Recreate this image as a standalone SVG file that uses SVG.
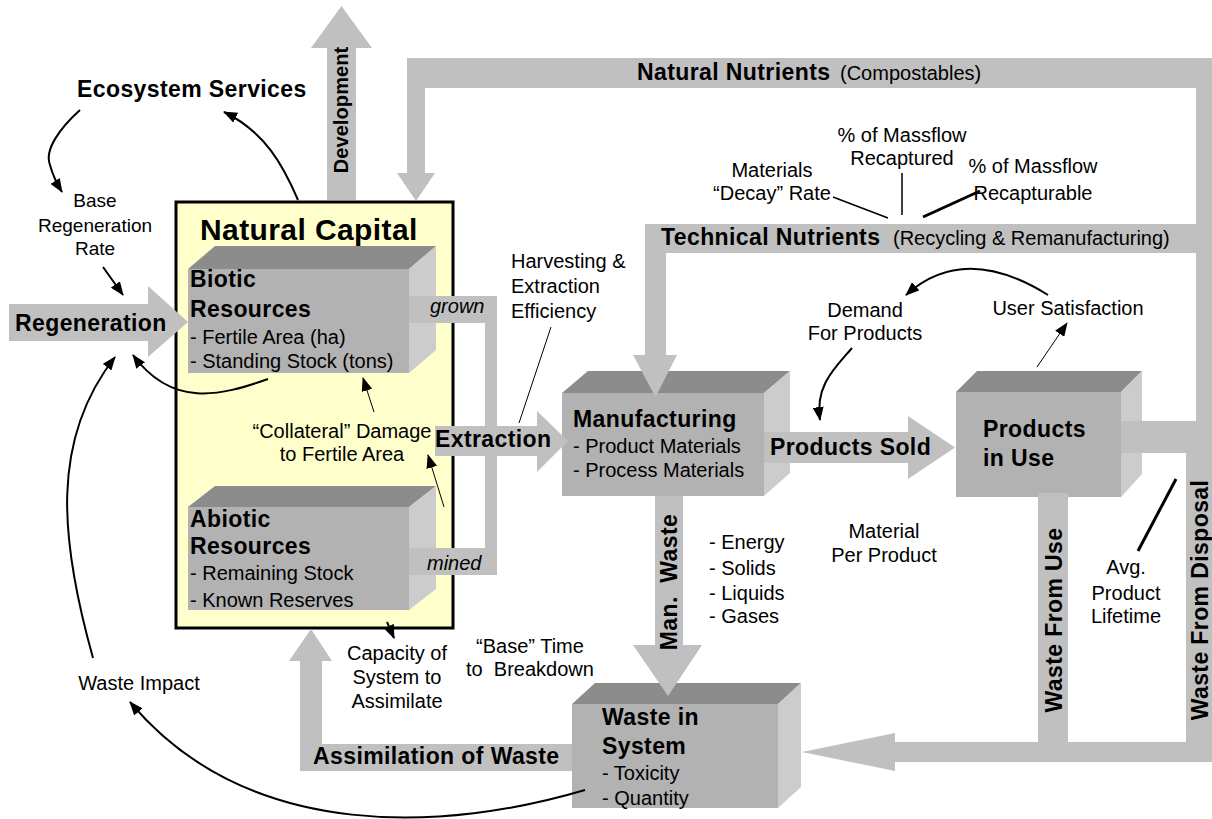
<svg xmlns="http://www.w3.org/2000/svg" width="1212" height="819" viewBox="0 0 1212 819">
<style>
.flow{fill:#c0c0c0}
.front{fill:#b2b2b2}
.top{fill:#8c8c8c}
.side{fill:#cccccc}
text{font-family:"Liberation Sans",Arial,sans-serif;fill:#000}
.b{font-weight:bold;font-size:23px;letter-spacing:0.4px}
.t{font-size:20px}
.i{font-size:20px;font-style:italic}
.m{text-anchor:middle}
.ln{fill:none;stroke:#000;stroke-width:2}
.thin{fill:none;stroke:#000;stroke-width:1}
.arr{marker-end:url(#ah)}
</style>
<defs>
<marker id="ah" viewBox="0 0 14 11" refX="13" refY="5.5" markerWidth="14" markerHeight="11" markerUnits="userSpaceOnUse" orient="auto">
<path d="M0,0 L14,5.5 L0,11 Z" fill="#000"/>
</marker>
</defs>
<rect width="1212" height="819" fill="#fff"/>

<g id="natural-capital">
<rect x="176" y="202" width="277" height="426" fill="#ffffcc" stroke="#000" stroke-width="3"/>
<text x="200" y="240" style="font-weight:bold;font-size:30px;letter-spacing:0.4px">Natural Capital</text>
</g>

<g id="biotic">
<polygon class="top" points="188,269 215,246 436,246 409,269"/>
<polygon class="side" points="409,269 436,246 436,350 409,373"/>
<rect class="front" x="188" y="269" width="221" height="104"/>
<text class="b" x="190" y="287">Biotic</text>
<text class="b" x="190" y="317">Resources</text>
<text class="t" x="190" y="344">- Fertile Area (ha)</text>
<text class="t" x="190" y="368">- Standing Stock (tons)</text>
</g>

<g id="abiotic">
<polygon class="top" points="188,507 215,486 436,486 409,507"/>
<polygon class="side" points="409,507 436,486 436,589 409,610"/>
<rect class="front" x="188" y="507" width="221" height="103"/>
<text class="b" x="190" y="527">Abiotic</text>
<text class="b" x="190" y="554">Resources</text>
<text class="t" x="190" y="580">- Remaining Stock</text>
<text class="t" x="190" y="607">- Known Reserves</text>
</g>

<g id="manufacturing">
<polygon class="top" points="562,393 588,371 790,371 764,393"/>
<polygon class="side" points="764,393 790,371 790,473 764,496"/>
<rect class="front" x="562" y="393" width="202" height="103"/>
<text class="b" x="573" y="427">Manufacturing</text>
<text class="t" x="573" y="453">- Product Materials</text>
<text class="t" x="573" y="477">- Process Materials</text>
</g>

<g id="products-in-use">
<polygon class="top" points="956,392 977,371 1142,371 1121,392"/>
<polygon class="side" points="1121,392 1142,371 1142,474 1121,497"/>
<rect class="front" x="956" y="392" width="165" height="105"/>
<text class="b" x="983" y="437">Products</text>
<text class="b" x="983" y="466">in Use</text>
</g>

<g id="waste-in-system">
<polygon class="top" points="572,704 595,683 801,683 778,704"/>
<polygon class="side" points="778,704 801,683 801,787 778,808"/>
<rect class="front" x="572" y="704" width="206" height="104"/>
<text class="b" x="602" y="725">Waste in</text>
<text class="b" x="602" y="754">System</text>
<text class="t" x="602" y="780">- Toxicity</text>
<text class="t" x="602" y="805">- Quantity</text>
</g>

<g id="flows">
<path class="flow" d="M1216 58 L407 58 L407 173 L397 173 L416 201 L435 173 L425 173 L425 88 L1196 88 L1196 421 L1216 421 Z"/>
<rect class="flow" x="1121" y="421" width="95" height="32"/>
<path class="flow" d="M1196 224 L645 224 L645 355 L633 355 L655.5 397 L677 355 L666 355 L666 253 L1196 253 Z"/>
<rect class="flow" x="1186" y="453" width="30" height="309"/>
<rect class="flow" x="1038" y="493" width="30" height="250"/>
<path class="flow" d="M1216 742 L895 742 L895 733 L802 752 L895 771 L895 762 L1216 762 Z"/>
<path class="flow" d="M764 432 L908 432 L908 416 L955 447.5 L908 479 L908 463 L764 463 Z"/>
<rect class="flow" x="409" y="296" width="88" height="27"/>
<rect class="flow" x="485" y="296" width="12" height="279"/>
<rect class="flow" x="409" y="548" width="88" height="27"/>
<path class="flow" d="M435 426 L537 426 L537 411 L568 441 L537 472 L537 456 L435 456 Z"/>
<path class="flow" d="M9 304 L148 304 L148 286 L188 322 L148 357 L148 341 L9 341 Z"/>
<path class="flow" d="M327 200 L327 48 L311 48 L341.5 6 L372 48 L356 48 L356 200 Z"/>
<path class="flow" d="M655 496 L655 645 L633 645 L668 696 L702 645 L683 645 L683 496 Z"/>
<path class="flow" d="M572 744 L572 771 L300 771 L300 661 L289 661 L311 629 L332 661 L322 661 L322 744 Z"/>
</g>

<g id="flow-labels">
<text class="b" x="15" y="331">Regeneration</text>
<text class="b" x="435" y="447">Extraction</text>
<text class="b" x="770" y="455">Products Sold</text>
<text class="b" x="313" y="764">Assimilation of Waste</text>
<text class="i" x="430" y="313">grown</text>
<text class="i" x="427" y="570">mined</text>
<text class="b m" transform="translate(348,110) rotate(-90)" style="font-size:20px;letter-spacing:0.1px">Development</text>
<text class="b m" transform="translate(677,582) rotate(-90)" xml:space="preserve">Man.  Waste</text>
<text class="b m" transform="translate(1062,620) rotate(-90)">Waste From Use</text>
<text class="b m" transform="translate(1208,600) rotate(-90)">Waste From Disposal</text>
<text x="637" y="80"><tspan class="b">Natural Nutrients</tspan><tspan class="t" x="840">(Compostables)</tspan></text>
<text x="661" y="245"><tspan class="b">Technical Nutrients</tspan><tspan class="t" x="893">(Recycling &amp; Remanufacturing)</tspan></text>
</g>

<g id="labels">
<text class="b" x="77" y="97">Ecosystem Services</text>
<text class="t m" style="font-size:19px"><tspan x="95" y="207">Base</tspan><tspan x="95" y="232">Regeneration</tspan><tspan x="95" y="255">Rate</tspan></text>
<text class="t m"><tspan x="772" y="177">Materials</tspan><tspan x="772" y="200">“Decay” Rate</tspan></text>
<text class="t m"><tspan x="902" y="142">% of Massflow</tspan><tspan x="902" y="165">Recaptured</tspan></text>
<text class="t m"><tspan x="1033" y="173">% of Massflow</tspan><tspan x="1033" y="200">Recapturable</tspan></text>
<text class="t"><tspan x="511" y="268">Harvesting &amp;</tspan><tspan x="511" y="293">Extraction</tspan><tspan x="511" y="318">Efficiency</tspan></text>
<text class="t m"><tspan x="865" y="317">Demand</tspan><tspan x="865" y="340">For Products</tspan></text>
<text class="t m" x="1068" y="315">User Satisfaction</text>
<text class="t m"><tspan x="884" y="538">Material</tspan><tspan x="884" y="562">Per Product</tspan></text>
<text class="t"><tspan x="709" y="549">- Energy</tspan><tspan x="709" y="575">- Solids</tspan><tspan x="709" y="600">- Liquids</tspan><tspan x="709" y="623">- Gases</tspan></text>
<text class="t m"><tspan x="1126" y="574">Avg.</tspan><tspan x="1126" y="600">Product</tspan><tspan x="1126" y="623">Lifetime</tspan></text>
<text class="t m" xml:space="preserve"><tspan x="530" y="653">“Base” Time</tspan><tspan x="530" y="676">to  Breakdown</tspan></text>
<text class="t m"><tspan x="397" y="660">Capacity of</tspan><tspan x="397" y="684">System to</tspan><tspan x="397" y="708">Assimilate</tspan></text>
<text class="t m" x="139" y="690">Waste Impact</text>
<text class="t m"><tspan x="342" y="438">“Collateral” Damage</tspan><tspan x="342" y="461">to Fertile Area</tspan></text>
</g>

<g id="connectors">
<path class="ln arr" d="M80 110 C60 128 44 150 50 165 C53 176 57 184 62 192"/>
<path class="ln arr" d="M298 200 C283 165 265 132 224 112"/>
<path class="ln arr" d="M103 267 L123 295"/>
<path class="ln arr" d="M268 379 C220 396 172 408 133 355"/>
<path class="ln arr" d="M93 658 C60 540 50 440 115 357"/>
<path class="ln arr" d="M585 790 C450 830 250 845 130 702"/>
<path class="thin arr" d="M374 412 L363 378"/>
<path class="thin arr" d="M444 507 L428 455"/>
<path class="ln arr" d="M387 622 L394 638"/>
<path class="thin" d="M551 327 L519 423"/>
<path class="thin" d="M833 197 L888 218" style="stroke-width:1.5"/>
<path class="thin" d="M902 173 L902 215" style="stroke-width:1.5"/>
<path class="ln" d="M923 217 L980 191" style="stroke-width:3"/>
<path class="ln arr" d="M1048 295 C1000 265 950 255 906 295"/>
<path class="ln arr" d="M852 348 C835 368 815 385 820 420"/>
<path class="thin arr" d="M1037 367 L1067 323"/>
<path class="ln" d="M1138 551 L1176 479" style="stroke-width:3"/>
</g>
</svg>
